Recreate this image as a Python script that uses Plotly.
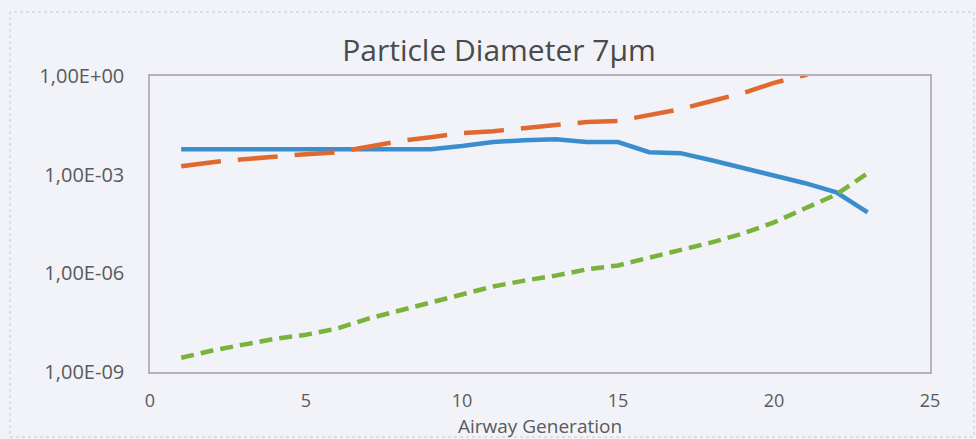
import plotly.graph_objects as go

generation = list(range(1, 24))
blue_vals = [5.9e-3, 5.9e-3, 5.9e-3, 5.9e-3, 5.6e-3, 5.6e-3, 5.6e-3, 5.5e-3, 5.9e-3,
             7.4e-3, 9.8e-3, 1.12e-2, 1.2e-2, 9.8e-3, 9.8e-3, 4.8e-3, 4.5e-3, 2.75e-3,
             1.6e-3, 8.9e-4, 5.5e-4, 2.9e-4, 7.1e-5]
orange_vals = [1.8e-3, 2.4e-3, 2.95e-3, 3.6e-3, 4.2e-3, 4.8e-3, 6.9e-3, 1.05e-2, 1.38e-2,
               1.82e-2, 2.1e-2, 2.6e-2, 3.2e-2, 4.0e-2, 4.3e-2, 6.5e-2, 9.8e-2, 0.174,
               0.30, 0.62, 1.07, 2.5, 6.3]
green_vals = [2.7e-9, 4.5e-9, 6.8e-9, 1.02e-8, 1.35e-8, 2.1e-8, 4.2e-8, 7.4e-8, 1.29e-7,
              2.4e-7, 4.0e-7, 6.0e-7, 8.5e-7, 1.32e-6, 1.74e-6, 3.0e-6, 5.0e-6, 8.7e-6,
              1.62e-5, 3.55e-5, 9.5e-5, 2.5e-4, 1.1e-3]

y_tickvals = [1e-9, 1e-6, 1e-3, 1]
y_ticktext = ["1,00E-09", "1,00E-06", "1,00E-03", "1,00E+00"]
x_tickvals = [0, 5, 10, 15, 20, 25]

bg = "#f1f3f8"
txt = "#5a5a5a"
font_family = "Open Sans, Lato, sans-serif"

fig = go.Figure()
fig.add_trace(go.Scatter(x=generation, y=blue_vals, mode="lines",
                         line=dict(color="#3b8ecd", width=4.5), showlegend=False))
fig.add_trace(go.Scatter(x=generation, y=orange_vals, mode="lines",
                         line=dict(color="#e2692e", width=4.5, dash="40px,17px"), showlegend=False))
fig.add_trace(go.Scatter(x=generation, y=green_vals, mode="lines",
                         line=dict(color="#7ab23c", width=4.5, dash="13px,7px"), showlegend=False))

plot_h = 439 - 76 - 67
plot_w = 976 - 150 - 46

fig.update_layout(
    width=976, height=439,
    margin=dict(l=150, r=46, t=76, b=67),
    paper_bgcolor=bg, plot_bgcolor=bg,
    font=dict(family=font_family, color=txt, size=20),
    title=dict(text="Particle Diameter 7µm", x=499 / 976, xref="container", xanchor="center",
               y=1 - 50 / 439, yref="container", yanchor="middle",
               font=dict(size=30, color="#4a4a4a", family=font_family)),
    xaxis=dict(range=[0, 25], tickvals=x_tickvals, showgrid=False, zeroline=False,
               showline=True, linecolor="#b8b3bb", linewidth=1.5, mirror=True,
               ticks="", ticklabelstandoff=12, tickfont=dict(size=18, color=txt)),
    yaxis=dict(type="log", range=[-9, 0], tickvals=y_tickvals, ticktext=y_ticktext,
               showgrid=False, zeroline=False, showline=True, linecolor="#b8b3bb",
               linewidth=1.5, mirror=True, ticks="", ticklabelstandoff=20,
               tickfont=dict(size=20, color=txt)),
    annotations=[dict(text="Airway Generation", x=0.5, xref="paper",
                      y=(439 - 67 - 426) / plot_h, yref="paper",
                      showarrow=False, font=dict(size=19, color=txt), yanchor="middle")],
)
# outer chart border (dotted, scanned look)
fig.add_shape(type="rect", xref="paper", yref="paper",
              x0=(10 - 150) / plot_w, x1=(974 - 150) / plot_w,
              y0=(439 - 67 - 437) / plot_h, y1=(439 - 67 - 12) / plot_h,
              line=dict(color="#c9c6cc", width=1, dash="dot"))

fig.write_html("out.html")
